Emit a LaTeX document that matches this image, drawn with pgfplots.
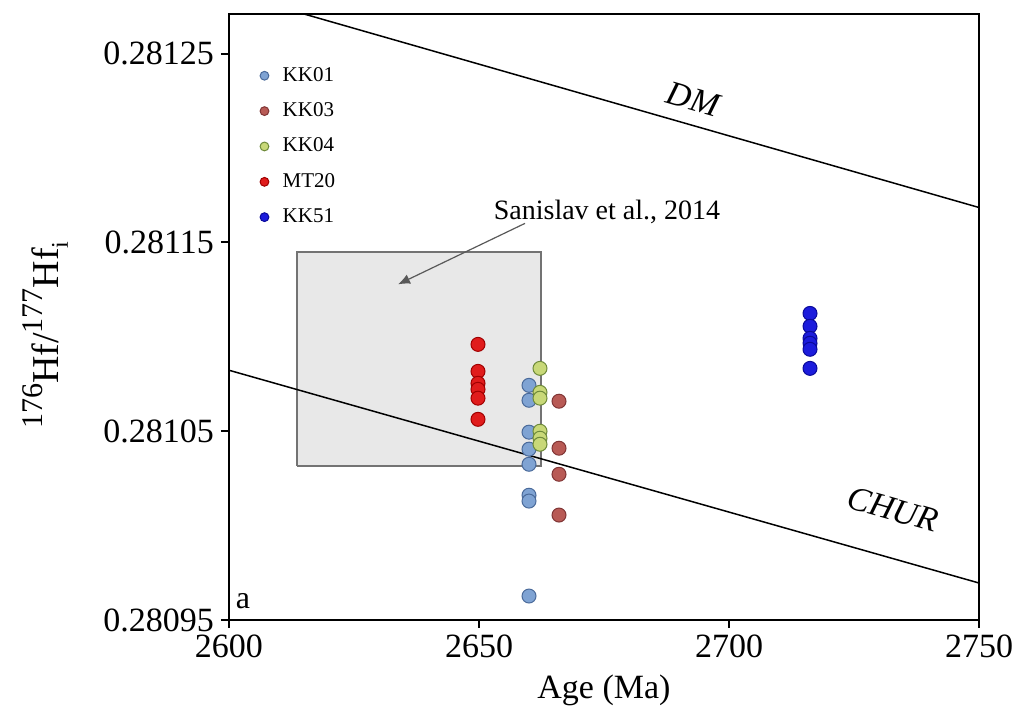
\documentclass[border=0pt]{standalone}
\usepackage{pgfplots}
\pgfplotsset{compat=1.18}
\usepackage{fontspec}
\setmainfont{Liberation Serif}
\usetikzlibrary{arrows.meta}
\definecolor{ckk01}{HTML}{7FA3D3}
\definecolor{ekk01}{HTML}{4A6A9A}
\definecolor{ckk03}{HTML}{B85A55}
\definecolor{ekk03}{HTML}{803535}
\definecolor{ckk04}{HTML}{C8D878}
\definecolor{ekk04}{HTML}{6E8A3A}
\definecolor{cmt20}{HTML}{E01C1C}
\definecolor{emt20}{HTML}{A00000}
\definecolor{ckk51}{HTML}{1C1CDC}
\definecolor{ekk51}{HTML}{0A0A9A}
\begin{document}
\begin{tikzpicture}
\useasboundingbox (-114.5pt,-47pt) rectangle (393pt,310pt);
\begin{axis}[
  scale only axis,
  width=375pt, height=303pt,
  xmin=2600, xmax=2750,
  ymin=0.28095, ymax=0.281271,
  axis line style={line width=1pt},
  xtick={2600,2650,2700,2750},
  ytick={0.28095,0.28105,0.28115,0.28125},
  yticklabels={0.28095,0.28105,0.28115,0.28125},
  xtick pos=bottom, ytick pos=left,
  tick align=outside,
  major tick length=4pt,
  tick style={line width=1pt, black},
  /pgf/number format/assume math mode=true,
  /pgf/number format/set thousands separator={},
  tick label style={font=\fontsize{17}{20}\selectfont},
  xlabel={Age (Ma)},
  xlabel style={font=\fontsize{17}{20}\selectfont, at={(axis description cs:0.5,-0.1155)}, anchor=center},
  ylabel={\raisebox{0.42em}{\fontsize{15}{15}\selectfont 176}Hf/\raisebox{0.42em}{\fontsize{15}{15}\selectfont 177}Hf\raisebox{-0.25em}{\fontsize{12}{12}\selectfont i}},
  ylabel style={font=\fontsize{19}{22}\selectfont, at={(axis description cs:-0.245,0.47)}, anchor=center},
  legend style={draw=none, fill=none, font=\fontsize{10.5}{12}\selectfont,
    at={(axis description cs:0.016,0.926)}, anchor=north west, row sep=5.2pt},
  legend cell align=left,
  legend image code/.code={\path[draw=none] (0cm,0cm) -- (0.55cm,0cm); \draw[#1, mark size=2.2pt] plot coordinates {(0.3cm,0cm)};},
]
% Sanislav et al. 2014 field
\addplot[draw=gray!90!black, line width=1pt, fill=gray!18, forget plot]
  coordinates {(2613.6,0.2810315) (2662.4,0.2810315) (2662.4,0.2811447) (2613.6,0.2811447) (2613.6,0.2810315)};
% DM and CHUR
\addplot[black, line width=0.75pt, forget plot] coordinates {(2600,0.2812824) (2750,0.2811685)};
\addplot[black, line width=0.75pt, forget plot] coordinates {(2600,0.2810823) (2750,0.2809696)};
% KK01
\addplot[only marks, mark=*, mark size=3.5pt, mark options={fill=ckk01, draw=ekk01, line width=0.5pt}]
  coordinates {(2660,0.2810743) (2660,0.2810664) (2660,0.2810495) (2660,0.2810405) (2660,0.2810325) (2660,0.2810161) (2660,0.2810130) (2660,0.2809627)};
\addlegendentry{KK01}
% KK03
\addplot[only marks, mark=*, mark size=3.5pt, mark options={fill=ckk03, draw=ekk03, line width=0.5pt}]
  coordinates {(2666,0.2810659) (2666,0.2810410) (2666,0.2810272) (2666,0.2810056)};
\addlegendentry{KK03}
% KK04
\addplot[only marks, mark=*, mark size=3.5pt, mark options={fill=ckk04, draw=ekk04, line width=0.5pt}]
  coordinates {(2662.2,0.2810833) (2662.2,0.2810706) (2662.2,0.2810675) (2662.2,0.2810500) (2662.2,0.2810463) (2662.2,0.2810431)};
\addlegendentry{KK04}
% MT20
\addplot[only marks, mark=*, mark size=3.5pt, mark options={fill=cmt20, draw=emt20, line width=0.5pt}]
  coordinates {(2649.8,0.2810960) (2649.8,0.2810817) (2649.8,0.2810754) (2649.8,0.2810722) (2649.8,0.2810675) (2649.8,0.2810563)};
\addlegendentry{MT20}
% KK51
\addplot[only marks, mark=*, mark size=3.5pt, mark options={fill=ckk51, draw=ekk51, line width=0.5pt}]
  coordinates {(2716.2,0.2811124) (2716.2,0.2811056) (2716.2,0.2810992) (2716.2,0.2810966) (2716.2,0.2810934) (2716.2,0.2810833)};
\addlegendentry{KK51}
% labels
\node[rotate=-16, font=\fontsize{17}{20}\selectfont\itshape] at (axis cs:2692.8,0.2812257) {DM};
\node[rotate=-16, font=\fontsize{17}{20}\selectfont\itshape] at (axis cs:2732.8,0.2810087) {CHUR};
\node[font=\fontsize{16}{19}\selectfont] at (axis cs:2602.8,0.2809600) {a};
\node[font=\fontsize{14}{16}\selectfont] at (axis cs:2675.6,0.2811659) {Sanislav et al., 2014};
\draw[gray!70!black, line width=0.6pt, -{Latex[length=6pt,width=5pt]}] (axis cs:2659.2,0.2811601) -- (axis cs:2633.8,0.2811278);
\end{axis}
\end{tikzpicture}
\end{document}
